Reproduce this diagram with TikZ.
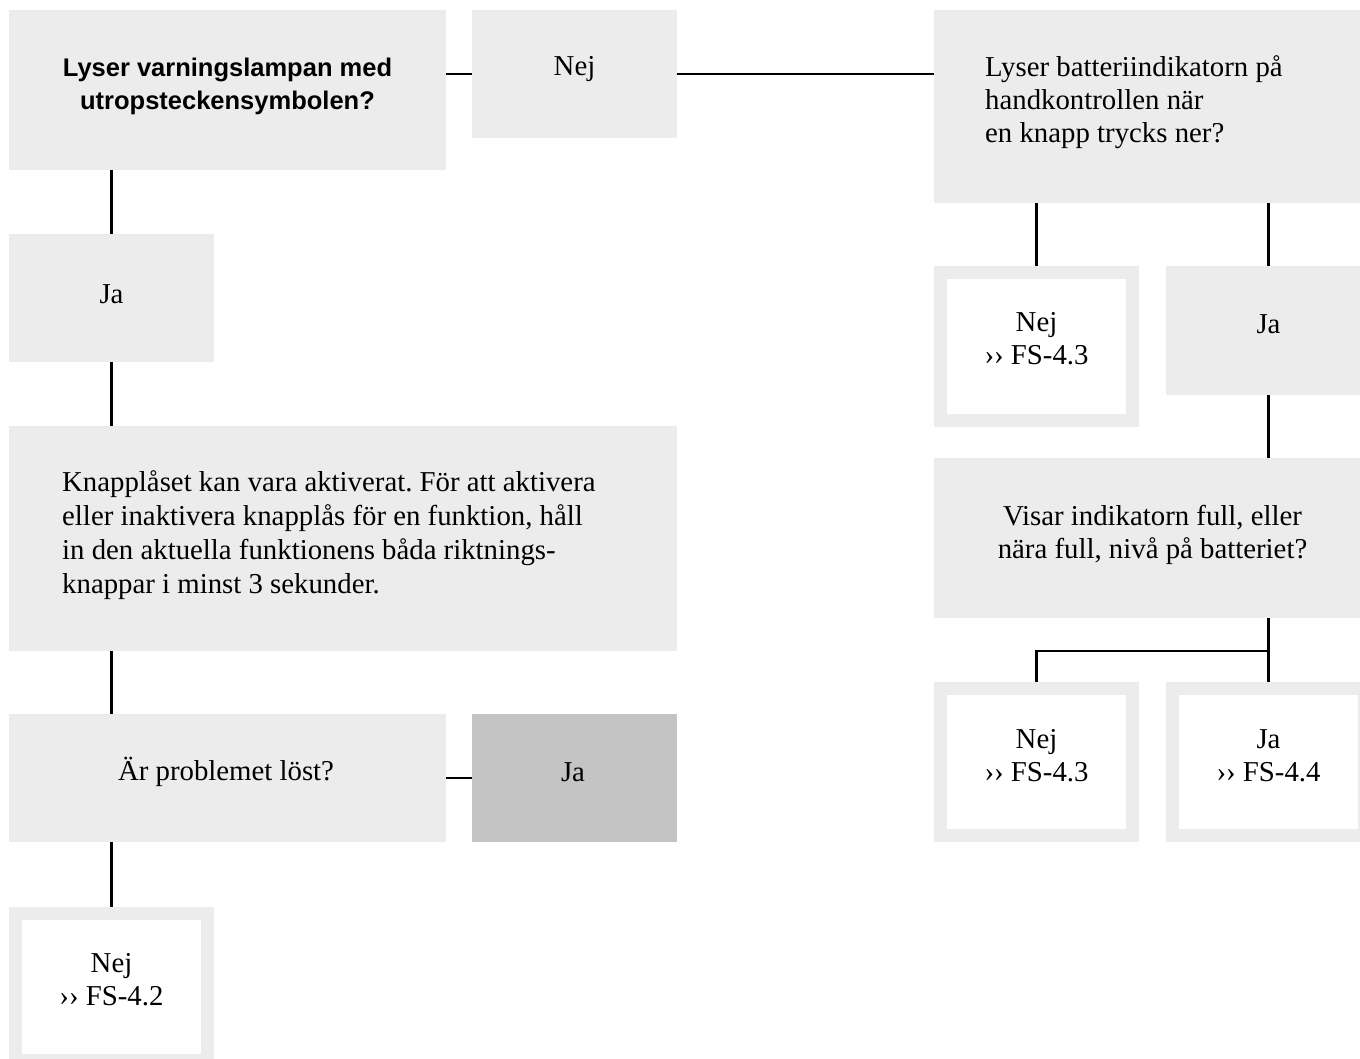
\documentclass[tikz,border=0pt]{standalone}
\usepackage{fontspec}
\setmainfont{Liberation Serif}
\newfontfamily\titlefont{Liberation Sans}
\definecolor{lg}{HTML}{ECECEC}
\definecolor{dg}{HTML}{C4C4C4}
\frenchspacing
\begin{document}
\begin{tikzpicture}[x=1pt,y=-1pt,
  box/.style={fill=lg, draw=none, inner sep=0pt, outer sep=0pt},
  darkbox/.style={fill=dg, draw=none, inner sep=0pt, outer sep=0pt},
  frame/.style={fill=white, draw=lg, line width=13pt, inner sep=0pt, outer sep=6.5pt,
                minimum width=192pt, minimum height=147pt},
  conn/.style={draw=black, line width=2.3pt},
  txt/.style={font=\fontsize{28.8}{33}\selectfont, inner sep=0pt, align=center},
  ttl/.style={font=\titlefont\bfseries\fontsize{25.5}{33}\selectfont, inner sep=0pt, align=center},
]
\useasboundingbox (0,0) rectangle (1360,1059);

% boxes
\node[box, minimum width=437pt, minimum height=160pt] (title) at (227.5,90) {};
\node[box, minimum width=205pt, minimum height=128pt] (nej1) at (574.5,74) {};
\node[box, minimum width=437pt, minimum height=193pt] (q) at (1152.5,106.5) {};
\node[box, minimum width=205pt, minimum height=128pt] (ja1) at (111.5,298) {};
\node[box, minimum width=668pt, minimum height=225pt] (knapp) at (343,538.5) {};
\node[box, minimum width=437pt, minimum height=128pt] (ar) at (227.5,778) {};
\node[darkbox, minimum width=205pt, minimum height=128pt] (ja4) at (574.5,778) {};
\node[frame] (fs42) at (111.5,987) {};
\node[frame, minimum height=148pt] (fs43a) at (1036.5,346.5) {};
\node[box, minimum width=205pt, minimum height=129pt] (ja2) at (1268.5,330.5) {};
\node[box, minimum width=437pt, minimum height=160pt] (visar) at (1152.5,538) {};
\node[frame] (fs43b) at (1036.5,762) {};
\node[frame] (fs44) at (1268.5,762) {};

% texts
\node[ttl] (t-title) at (227.5,86) {Lyser varningslampan med\\utropsteckensymbolen?};
\node[txt] (t-nej1) at (574.5,69) {Nej};
\node[txt, align=left, anchor=west] (t-q) at (985,102) {Lyser batteriindikatorn på\\handkontrollen när\\en knapp trycks ner?};
\node[txt] (t-ja1) at (111.5,294) {Ja};
\node[txt, align=left, anchor=west, font=\fontsize{28.8}{34}\selectfont] (t-knapp) at (62,535) {Knapplåset kan vara aktiverat. För att aktivera\\eller inaktivera knapplås för en funktion, håll\\in den aktuella funktionens båda riktnings-\\knappar i minst 3 sekunder.};
\node[txt] (t-ar) at (226,772) {Är problemet löst?};
\node[txt] (t-ja4) at (573,772) {Ja};
\node[txt] (t-fs42) at (111.5,980) {Nej\\›› FS-4.2};
\node[txt] (t-fs43a) at (1036.5,339) {Nej\\›› FS-4.3};
\node[txt] (t-ja2) at (1268.5,324) {Ja};
\node[txt] (t-visar) at (1152.5,535) {Visar indikatorn full, eller\\nära full, nivå på batteriet?};
\node[txt] (t-fs43b) at (1036.5,756) {Nej\\›› FS-4.3};
\node[txt] (t-fs44) at (1268.5,756) {Ja\\›› FS-4.4};

% connectors
\coordinate (br) at (1268.5,651);
\draw[conn] (title.east |- nej1.center) -- (nej1.west);
\draw[conn] (nej1.east) -- (nej1.east -| q.west);
\draw[conn] (title.south -| ja1.center) -- (ja1.north);
\draw[conn] (ja1.south) -- (ja1.south |- knapp.north);
\draw[conn] (knapp.south -| ja1.center) -- (ar.north -| ja1.center);
\draw[conn] (ar.east) -- (ja4.west);
\draw[conn] (ar.south -| fs42.north) -- (fs42.north);
\draw[conn] (q.south -| fs43a.north) -- (fs43a.north);
\draw[conn] (q.south -| ja2.north) -- (ja2.north);
\draw[conn] (ja2.south) -- (ja2.south |- visar.north);
\draw[conn] (visar.south -| fs44.north) -- (fs44.north);
\draw[conn] (br) -| (fs43b.north);
\end{tikzpicture}
\end{document}
